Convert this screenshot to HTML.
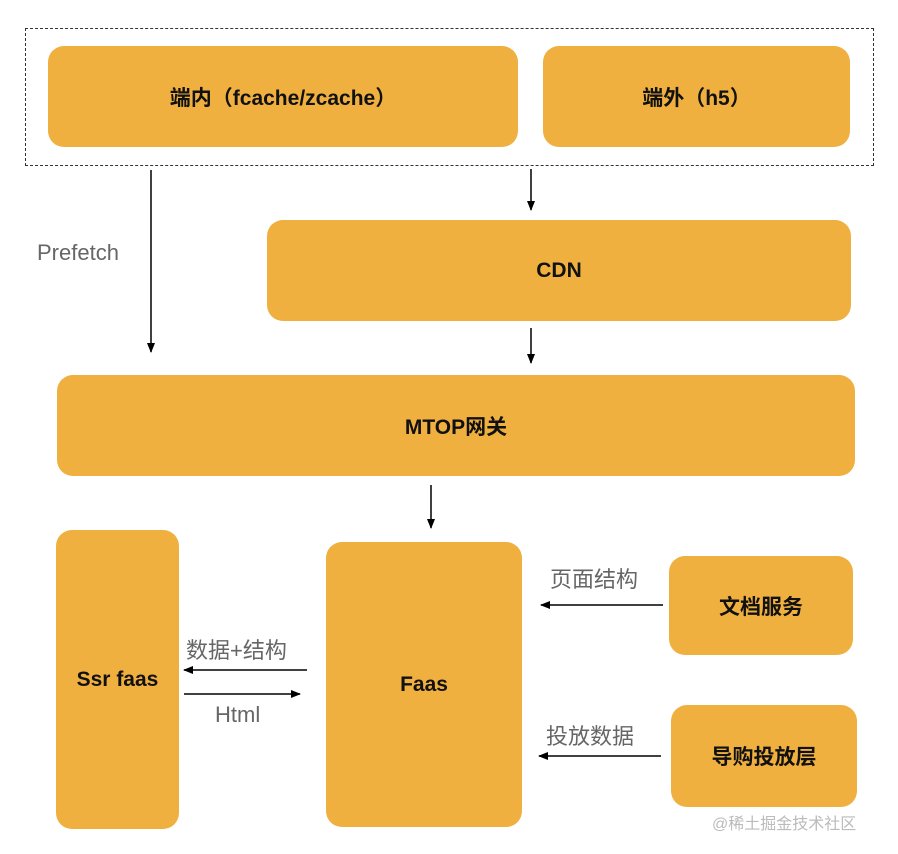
<!DOCTYPE html>
<html><head><meta charset="utf-8"><style>
body{margin:0;width:898px;height:854px;background:#fff;position:relative;overflow:hidden;font-family:"Liberation Sans","Noto Sans CJK SC",sans-serif}
.b{position:absolute;background:#F0B040;border-radius:16px;display:flex;align-items:center;justify-content:center;font-weight:bold;font-size:21px;color:#111}
.t{position:absolute;color:#666;font-size:22px;white-space:nowrap}
</style></head><body>
<div style="position:absolute;left:25px;top:28px;width:847px;height:136px;border:1px dashed #333"></div>
<div class="b" style="left:48px;top:46px;width:470px;height:101px">端内（fcache/zcache）</div>
<div class="b" style="left:543px;top:46px;width:307px;height:101px">端外（h5）</div>
<div class="b" style="left:267px;top:220px;width:584px;height:101px">CDN</div>
<div class="b" style="left:57px;top:375px;width:798px;height:101px">MTOP网关</div>
<div class="b" style="left:56px;top:530px;width:123px;height:299px">Ssr faas</div>
<div class="b" style="left:326px;top:542px;width:196px;height:285px">Faas</div>
<div class="b" style="left:669px;top:556px;width:184px;height:99px">文档服务</div>
<div class="b" style="left:671px;top:705px;width:186px;height:102px">导购投放层</div>
<div class="t" style="left:37px;top:240px">Prefetch</div>
<div class="t" style="left:550px;top:562px">页面结构</div>
<div class="t" style="left:546px;top:719px">投放数据</div>
<div class="t" style="left:186px;top:633px">数据+结构</div>
<div class="t" style="left:215px;top:702px">Html</div>
<div style="position:absolute;left:712px;top:810px;color:#bbb;font-size:16px">@稀土掘金技术社区</div>
<svg width="898" height="854" style="position:absolute;left:0;top:0">
<defs><marker id="a" markerWidth="10" markerHeight="10" refX="9" refY="5" orient="auto" markerUnits="userSpaceOnUse"><path d="M0,1 L10,5 L0,9z" fill="#000"/></marker></defs>
<g stroke="#000" stroke-width="1.5" marker-end="url(#a)">
<line x1="151" y1="170" x2="151" y2="352"/>
<line x1="531" y1="169" x2="531" y2="210"/>
<line x1="531" y1="328" x2="531" y2="363"/>
<line x1="431" y1="485" x2="431" y2="528"/>
<line x1="307" y1="670" x2="184" y2="670"/>
<line x1="184" y1="694" x2="300" y2="694"/>
<line x1="663" y1="605" x2="541" y2="605"/>
<line x1="661" y1="756" x2="539" y2="756"/>
</g></svg>
</body></html>
